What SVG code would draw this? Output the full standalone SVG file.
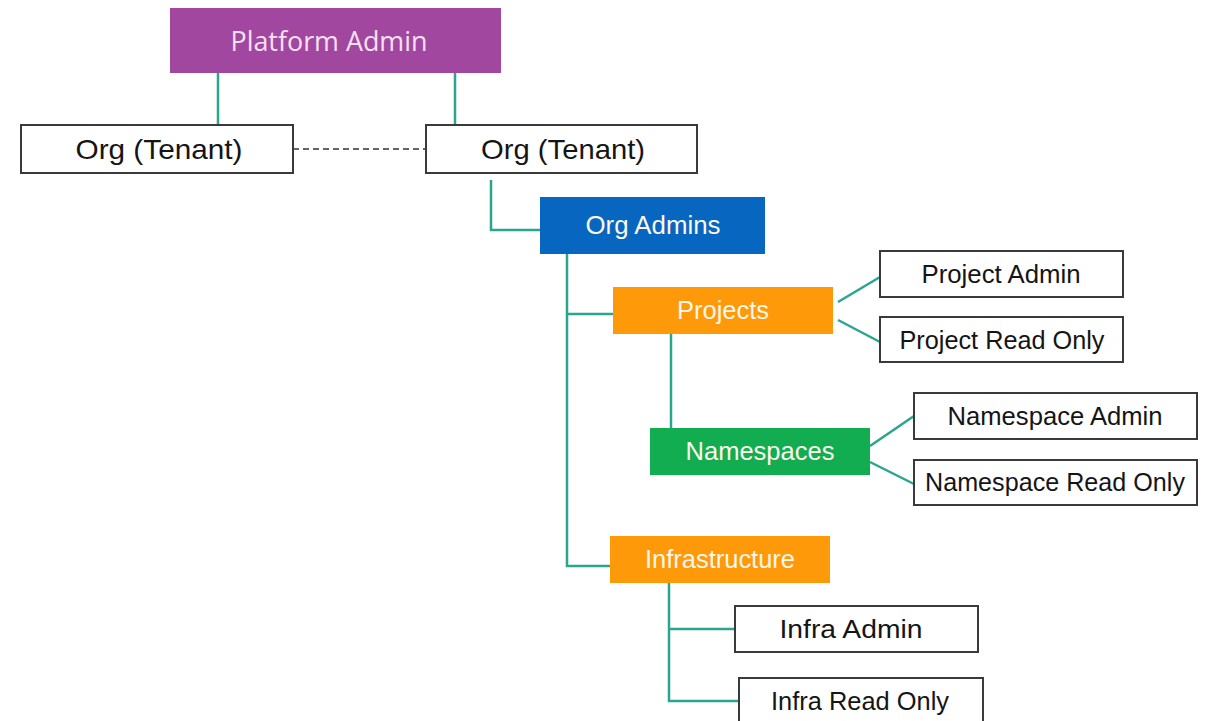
<svg xmlns="http://www.w3.org/2000/svg" width="1209" height="721" viewBox="0 0 1209 721">
<style>
.box{fill:#fff;stroke:#3a3a3a;stroke-width:2}
.t{font-family:"Liberation Sans",Arial,sans-serif;font-size:26px;fill:#151515;text-anchor:middle;dominant-baseline:central}
.w{font-family:"Liberation Sans",Arial,sans-serif;font-size:25px;fill:#fdf6ec;text-anchor:middle;dominant-baseline:central}
.c{fill:none;stroke:#2aa58e;stroke-width:2.5}
</style>
<rect width="1209" height="721" fill="#fff"/>
<g id="connectors">
<path class="c" d="M218 73V125M455 73V125"/>
<path d="M293 149H426" fill="none" stroke="#333" stroke-width="1.5" stroke-dasharray="6 4"/>
<path class="c" d="M491 180V230H540"/>
<path class="c" d="M567 254V566H610M567 314H613"/>
<path class="c" d="M671 334V428"/>
<path class="c" d="M838 302L880 277M838 320L880 342"/>
<path class="c" d="M870 446L914 416M870 462L914 484"/>
<path class="c" d="M669 583V701H739M669 629H735"/>
</g>
<g id="platform-admin"><rect x="170" y="8" width="331" height="65" fill="#a2479f"/><text x="329" y="40" textLength="197" lengthAdjust="spacingAndGlyphs" style="font-family:'Open Sans','Noto Sans',sans-serif;font-size:27px;fill:#f6e0f2;text-anchor:middle;dominant-baseline:central">Platform Admin</text></g>
<g id="org-tenant-1"><rect class="box" x="21" y="125" width="272" height="48"/><text class="t" x="159" y="149" textLength="167" lengthAdjust="spacingAndGlyphs" style="font-size:28px">Org (Tenant)</text></g>
<g id="org-tenant-2"><rect class="box" x="426" y="125" width="271" height="48"/><text class="t" x="563" y="149" textLength="164" lengthAdjust="spacingAndGlyphs" style="font-size:28px">Org (Tenant)</text></g>
<g id="org-admins"><rect x="540" y="197" width="225" height="57" fill="#0767c0"/><text class="w" x="653" y="225" textLength="135" lengthAdjust="spacingAndGlyphs">Org Admins</text></g>
<g id="projects"><rect x="613" y="287" width="220" height="47" fill="#fe9a0a"/><text class="w" x="723" y="310" textLength="92" lengthAdjust="spacingAndGlyphs">Projects</text></g>
<g id="project-admin"><rect class="box" x="880" y="251" width="243" height="46"/><text class="t" x="1001" y="274" textLength="159" lengthAdjust="spacingAndGlyphs">Project Admin</text></g>
<g id="project-read-only"><rect class="box" x="880" y="317" width="243" height="45"/><text class="t" x="1002" y="340" textLength="205" lengthAdjust="spacingAndGlyphs">Project Read Only</text></g>
<g id="namespaces"><rect x="650" y="428" width="220" height="47" fill="#12ad50"/><text class="w" x="760" y="451" textLength="149" lengthAdjust="spacingAndGlyphs">Namespaces</text></g>
<g id="namespace-admin"><rect class="box" x="914" y="393" width="283" height="46"/><text class="t" x="1055" y="416" textLength="215" lengthAdjust="spacingAndGlyphs">Namespace Admin</text></g>
<g id="namespace-read-only"><rect class="box" x="914" y="460" width="283" height="45"/><text class="t" x="1055" y="482" textLength="260" lengthAdjust="spacingAndGlyphs">Namespace Read Only</text></g>
<g id="infrastructure"><rect x="610" y="536" width="220" height="47" fill="#fe9a0a"/><text class="w" x="720" y="559" textLength="150" lengthAdjust="spacingAndGlyphs">Infrastructure</text></g>
<g id="infra-admin"><rect class="box" x="735" y="606" width="243" height="46"/><text class="t" x="851" y="629" textLength="143" lengthAdjust="spacingAndGlyphs">Infra Admin</text></g>
<g id="infra-read-only"><rect class="box" x="739" y="678" width="244" height="50"/><text class="t" x="860" y="701" textLength="178" lengthAdjust="spacingAndGlyphs">Infra Read Only</text></g>
</svg>
